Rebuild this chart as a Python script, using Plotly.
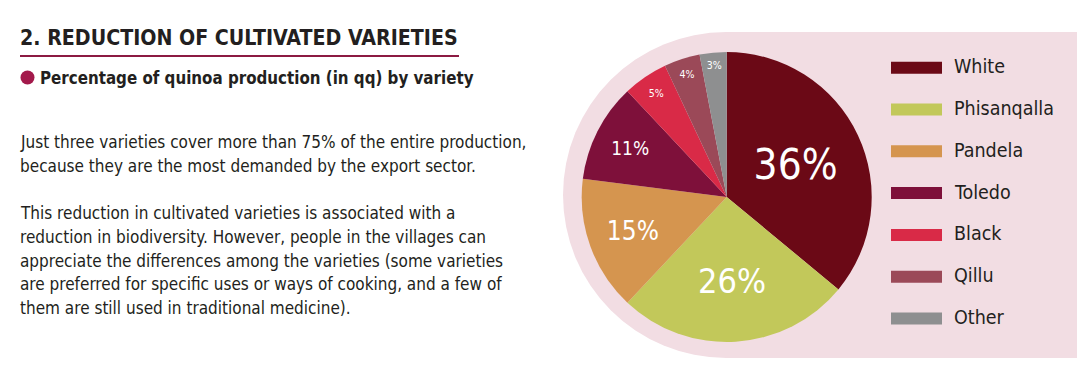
import plotly.graph_objects as go

# page body has an 8px margin in the browser; lay the figure out to fill the window
OX, OY = 8, 8
W, H = 1085 - OX, 379 - OY

varieties = ["White", "Phisanqalla", "Pandela", "Toledo", "Black", "Qillu", "Other"]
shares = [36, 26, 15, 11, 5, 4, 3]
colors = ["#6b0916", "#c2c85a", "#d5954f", "#7e103a", "#d92a47", "#9b4958", "#8e8f90"]
label_sizes = [42, 34, 26, 19, 10.5, 10.5, 10.5]

title = "2. REDUCTION OF CULTIVATED VARIETIES"
subtitle = "Percentage of quinoa production (in qq) by variety"
body_lines = [
    "Just three varieties cover more than 75% of the entire production,",
    "because they are the most demanded by the export sector.",
    "",
    "This reduction in cultivated varieties is associated with a",
    "reduction in biodiversity. However, people in the villages can",
    "appreciate the differences among the varieties (some varieties",
    "are preferred for specific uses or ways of cooking, and a few of",
    "them are still used in traditional medicine).",
]

FONT = "DejaVu Sans Condensed, Liberation Sans Narrow, Arial Narrow, sans-serif"
TXT = "#231f20"
ACCENT = "#8c1a42"
PINK = "#f2dde3"


def px(x):
    return (x - OX) / W


def py(y):
    return 1 - (y - OY) / H


# pie geometry (window pixels)
cx, cy, r = 726.7, 197.0, 145.0

fig = go.Figure()
fig.add_trace(go.Pie(
    labels=varieties,
    values=shares,
    sort=False,
    direction="clockwise",
    rotation=0,
    marker=dict(colors=colors, line=dict(width=0)),
    textinfo="percent",
    textposition="inside",
    insidetextorientation="horizontal",
    textfont=dict(family=FONT, color="white", size=label_sizes),
    domain=dict(x=[px(cx - r), px(cx + r)], y=[py(cy + r), py(cy - r)]),
    showlegend=False,
    hoverinfo="label+percent",
))

shapes = []
annotations = []

# pink stadium background
bg_r = 163
bg_cx, bg_cy = 726, 195
shapes.append(dict(type="circle", xref="paper", yref="paper",
                   x0=px(bg_cx - bg_r), x1=px(bg_cx + bg_r),
                   y0=py(bg_cy + bg_r), y1=py(bg_cy - bg_r),
                   fillcolor=PINK, line=dict(width=0), layer="below"))
shapes.append(dict(type="rect", xref="paper", yref="paper",
                   x0=px(bg_cx), x1=px(1082),
                   y0=py(bg_cy + bg_r), y1=py(bg_cy - bg_r),
                   fillcolor=PINK, line=dict(width=0), layer="below"))

# title + underline
annotations.append(dict(text="<b>" + title + "</b>", x=px(18), y=py(38),
                        xref="paper", yref="paper", xanchor="left", yanchor="middle",
                        showarrow=False, font=dict(family=FONT, size=21.2, color=TXT)))
shapes.append(dict(type="line", xref="paper", yref="paper",
                   x0=px(20), x1=px(459), y0=py(56), y1=py(56),
                   line=dict(color=ACCENT, width=2)))

# subtitle with bullet
shapes.append(dict(type="circle", xref="paper", yref="paper",
                   x0=px(20.5), x1=px(34.5), y0=py(84.5), y1=py(70.5),
                   fillcolor="#a3194b", line=dict(width=0)))
annotations.append(dict(text="<b>" + subtitle + "</b>", x=px(38), y=py(77.5),
                        xref="paper", yref="paper", xanchor="left", yanchor="middle",
                        showarrow=False, font=dict(family=FONT, size=16.8, color=TXT)))

# body text
y0, dy = 142.0, 23.7
for i, line in enumerate(body_lines):
    if not line:
        continue
    annotations.append(dict(text=line, x=px(18), y=py(y0 + i * dy),
                            xref="paper", yref="paper", xanchor="left", yanchor="middle",
                            showarrow=False, font=dict(family=FONT, size=17, color=TXT)))

# legend (manual)
ly0, ldy = 67.7, 41.8
for i, (name, col) in enumerate(zip(varieties, colors)):
    yc = ly0 + i * ldy
    shapes.append(dict(type="rect", xref="paper", yref="paper",
                       x0=px(891), x1=px(942), y0=py(yc + 6), y1=py(yc - 6),
                       fillcolor=col, line=dict(width=0)))
    annotations.append(dict(text=name, x=px(952), y=py(yc - 1),
                            xref="paper", yref="paper", xanchor="left", yanchor="middle",
                            showarrow=False, font=dict(family=FONT, size=19.5, color=TXT)))

fig.update_layout(
    width=W, height=H,
    margin=dict(l=0, r=0, t=0, b=0),
    paper_bgcolor="white",
    plot_bgcolor="white",
    shapes=shapes,
    annotations=annotations,
    showlegend=False,
)

fig.write_html("out.html")
